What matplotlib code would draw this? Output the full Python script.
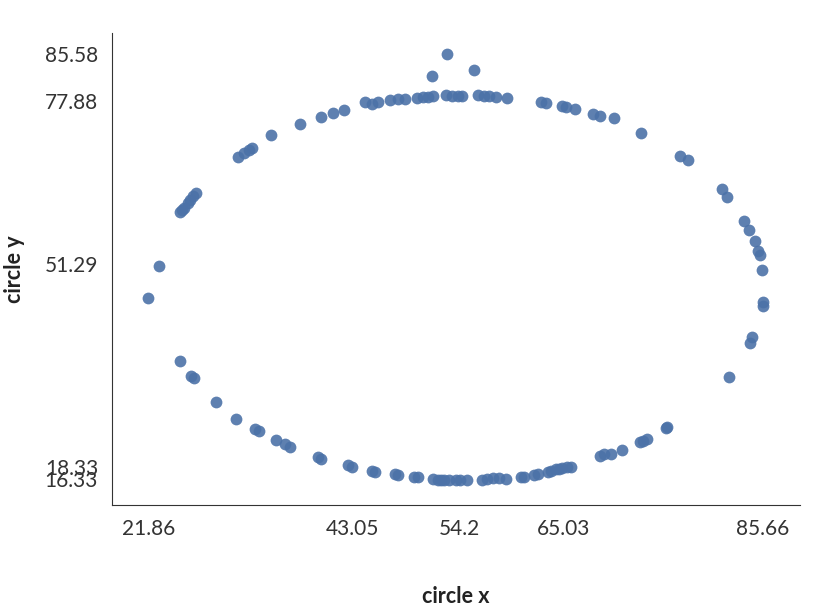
import matplotlib
matplotlib.use("Agg")
import matplotlib.pyplot as plt

plt.rcParams['font.family'] = ['Lato', 'DejaVu Sans']

# circle dataset
circle_x = [52.93, 51.37, 55.73,
            44.41, 45.14, 45.76, 47.01, 47.84, 48.56, 49.81, 50.44, 50.95, 51.47,
            52.83, 53.45, 54.07, 54.49, 56.15, 56.77, 57.29, 58.02, 59.16, 62.70,
            63.22, 64.88, 65.29, 66.23, 68.10, 68.83, 70.28, 73.09, 77.14, 77.97,
            81.50, 82.02, 83.79, 84.31, 84.93, 85.25, 85.45, 85.66, 85.76, 85.76,
            84.62, 84.41, 82.23,
            42.23, 41.08, 39.84, 37.65, 34.64, 32.67, 32.35, 31.84, 31.21,
            26.85, 26.54, 26.22, 26.02, 25.60, 25.39, 25.19, 23.00, 21.86,
            25.19, 26.33, 26.64, 28.93, 31.00, 32.98, 33.39, 35.16, 36.10, 36.62,
            39.52, 39.84, 42.64, 43.06, 45.14, 45.45, 47.53, 47.84, 49.50, 49.92,
            51.47, 51.99, 52.31, 52.62, 53.14, 53.86, 54.28, 55.01, 56.57, 57.09,
            57.71, 58.33, 59.06, 60.62, 60.93, 61.97, 62.38, 63.42, 63.74, 64.26,
            64.57, 64.88, 65.40, 65.81, 68.83, 69.24, 69.97, 71.11, 72.98, 73.30,
            73.71, 75.69, 75.79]
circle_y = [85.58, 82.00, 82.97,
            77.76, 77.43, 77.76, 78.08, 78.25, 78.25, 78.41, 78.57, 78.57, 78.74,
            78.90, 78.74, 78.74, 78.74, 78.90, 78.74, 78.74, 78.57, 78.41, 77.76,
            77.60, 77.11, 76.94, 76.62, 75.80, 75.48, 75.15, 72.71, 68.96, 68.31,
            63.58, 62.28, 58.37, 56.90, 55.11, 53.48, 52.83, 50.38, 45.17, 44.52,
            39.47, 38.49, 32.95,
            76.45, 75.97, 75.31, 74.17, 72.38, 70.26, 69.94, 69.45, 68.80,
            62.93, 62.44, 61.79, 61.30, 60.49, 60.16, 59.83, 51.03, 45.82,
            35.55, 33.11, 32.78, 28.87, 26.10, 24.47, 24.15, 22.68, 22.03, 21.54,
            19.91, 19.59, 18.61, 18.28, 17.63, 17.47, 17.14, 16.98, 16.65, 16.65,
            16.33, 16.16, 16.16, 16.16, 16.16, 16.16, 16.16, 16.16, 16.16, 16.33,
            16.49, 16.49, 16.33, 16.65, 16.65, 16.98, 17.14, 17.47, 17.63, 17.96,
            17.96, 18.12, 18.28, 18.28, 20.07, 20.40, 20.40, 21.05, 22.36, 22.52,
            22.84, 24.64, 24.80]

x_ticks = [21.86, 43.05, 54.2, 65.03, 85.66]
y_ticks = [16.33, 18.33, 51.29, 77.88, 85.58]

fig = plt.figure(figsize=(8.32, 6.10), dpi=100)
ax = fig.add_axes([0.1346, 0.172, 0.827, 0.774])

ax.scatter(circle_x, circle_y, s=72, color='#4c72a8', alpha=0.9, linewidths=0)

ax.set_xlim(18.1, 89.6)
ax.set_ylim(12.1, 89.0)
ax.set_xticks(x_ticks)
ax.set_xticklabels([str(v) for v in x_ticks])
ax.set_yticks(y_ticks)
ax.set_yticklabels([str(v) for v in y_ticks])
ax.tick_params(length=0, labelsize=15, colors='#333333', pad=10)

for s in ['top', 'right']:
    ax.spines[s].set_visible(False)
for s in ['left', 'bottom']:
    ax.spines[s].set_color('#333333')

ax.set_xlabel('circle x', fontsize=15.5, fontweight='bold', color='#222222', labelpad=34)
ax.set_ylabel('circle y', fontsize=15.5, fontweight='bold', color='#222222', labelpad=14)

fig.savefig('out.png', dpi=100)
